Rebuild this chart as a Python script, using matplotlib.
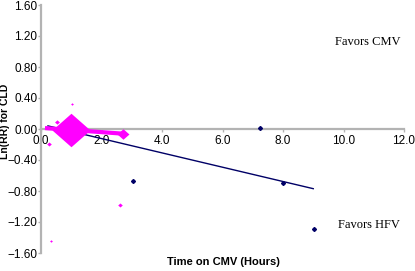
import matplotlib
matplotlib.use("Agg")
import matplotlib.pyplot as plt
import numpy as np

# Pink studies (x = hours on CMV, y = Ln(RR)), marker sizes reflect weight
pink_x = [0.99, 2.71, 0.53, 1.02, 0.27, 2.61, 0.33]
pink_y = [-0.01, -0.06, 0.09, 0.32, -0.19, -0.98, -1.44]
pink_ms = [27.4, 8.6, 3.5, 2.0, 3.3, 3.3, 2.0]

# Navy studies
navy_x = [3.04, 8.0, 9.02, 7.24]
navy_y = [-0.67, -0.70, -1.29, 0.01]

# Regression lines
navy_line_x = [0.23, 9.0]
navy_line_y = [0.04, -0.77]
pink_line_x = [0.2, 2.7]
pink_line_y = [0.01, -0.06]

xticks = [0, 2, 4, 6, 8, 10, 12]
xticklabels = ["0.0", "2.0", "4.0", "6.0", "8.0", "10.0", "12.0"]
yticks = [1.6, 1.2, 0.8, 0.4, 0.0, -0.4, -0.8, -1.2, -1.6]
yticklabels = ["1.60", "1.20", "0.80", "0.40", "0.00", "\u22120.40", "\u22120.80", "\u22121.20", "\u22121.60"]

W, H = 415, 271
fig = plt.figure(figsize=(W / 100, H / 100), dpi=100)
ax = fig.add_axes([41 / W, 1 - 253 / H, (404 - 41) / W, (253 - 5) / H])
ax.set_xlim(0, 12)
ax.set_ylim(-1.6, 1.6)

gray = "#b3b3b3"
for s in ["top", "right"]:
    ax.spines[s].set_visible(False)
ax.spines["left"].set_position(("data", 0))
ax.spines["bottom"].set_position(("data", 0))
for s in ["left", "bottom"]:
    ax.spines[s].set_color(gray)
    ax.spines[s].set_linewidth(1.6)

ax.set_xticks(xticks)
ax.set_xticklabels(xticklabels)
ax.set_yticks(yticks)
ax.set_yticklabels(yticklabels)
ax.tick_params(axis="both", direction="out", length=2, width=1, color=gray,
               labelsize=8.5)
ax.tick_params(axis="y", pad=0.5)
ax.tick_params(axis="x", pad=2)
for lab in ax.get_xticklabels() + ax.get_yticklabels():
    lab.set_fontfamily("Liberation Sans")

pink = "#ff00ff"
navy = "#000066"

diamond = [(0, 0.88), (1, 0), (0, -0.88), (-1, 0), (0, 0.88)]

ax.plot(navy_line_x, navy_line_y, color=navy, lw=1.0, zorder=3)
ax.plot(pink_line_x, pink_line_y, color=pink, lw=3, zorder=4)
for x, y, ms in zip(pink_x, pink_y, pink_ms):
    ax.plot([x], [y], marker=diamond, ms=ms, color=pink, mec=pink, mew=0,
            zorder=5, ls="none")
ax.plot(navy_x, navy_y, marker="D", ms=2, color=navy, ls="none", zorder=5)

fig.text(368 / W, 1 - 42 / H, "Favors CMV", family="Liberation Serif", fontsize=9,
         ha="center", va="center")
fig.text(369 / W, 1 - 225 / H, "Favors HFV", family="Liberation Serif", fontsize=9,
         ha="center", va="center")
fig.text(5 / W, 1 - 121 / H, "Ln(RR) for CLD", family="Liberation Sans", fontsize=7.5,
         fontweight="bold", rotation=90, ha="center", va="center")
fig.text(223 / W, 1 - 262 / H, "Time on CMV (Hours)", family="Liberation Sans",
         fontsize=8, fontweight="bold", ha="center", va="center")

fig.savefig("out.png", dpi=100)
